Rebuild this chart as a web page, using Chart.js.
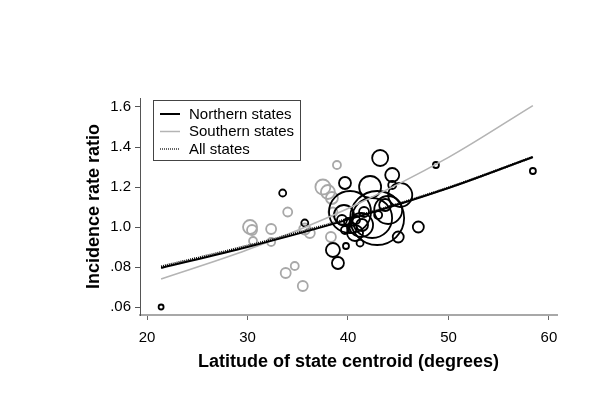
<!DOCTYPE html>
<html><head><meta charset="utf-8">
<script src="https://cdn.jsdelivr.net/npm/chart.js@4/dist/chart.umd.min.js"></script>
<style>html,body{margin:0;padding:0;background:#fff}#wrap{width:608px;height:412px}</style>
</head><body><div id="wrap"><canvas id="c" width="608" height="412"></canvas></div>
<script>
// ---- data ----
const xTicks = [20, 30, 40, 50, 60];
const yTicks = [0.6, 0.8, 1.0, 1.2, 1.4, 1.6];
const yTickLabels = ['.06', '.08', '1.0', '1.2', '1.4', '1.6'];
const seriesNames = ['Northern states', 'Southern states', 'All states'];
const xTitle = 'Latitude of state centroid (degrees)';
const yTitle = 'Incidence rate ratio';

// Northern states (black circles): latitude, IRR, bubble size
const northLat  = [21.4, 33.5, 35.7, 48.75, 58.4, 43.2, 39.7, 42.2, 44.4, 44.4, 45.2, 42.9, 40.2, 42.4, 47.0, 45.0, 38.5, 39.0, 39.8, 41.2, 39.4, 40.0, 40.4, 40.8, 39.7, 41.4, 41.6, 43.7, 43.0, 40.7, 44.0, 41.3, 39.6];
const northIRR  = [0.60, 1.17, 1.02, 1.31, 1.28, 1.345, 1.22, 1.20, 1.26, 1.21, 1.16, 1.045, 1.075, 1.045, 1.00, 0.95, 0.885, 0.82, 0.905, 0.92, 1.035, 1.025, 0.995, 1.035, 0.985, 1.01, 1.075, 1.11, 1.06, 0.97, 1.085, 1.01, 1.06];
const northSize = [2.5, 3.5, 3.5, 3, 3, 8, 6, 11, 7, 4, 12, 27, 21, 20, 5.5, 5.5, 7, 6, 3, 3.5, 5, 4, 5, 4, 4, 6, 5, 6, 4, 8, 14, 12, 10];

// Southern states (grey circles)
const southLat  = [30.25, 30.45, 30.55, 32.35, 32.35, 34.0, 33.8, 34.7, 35.5, 35.7, 36.2, 38.9, 37.5, 38.0, 38.4, 38.5, 38.3];
const southIRR  = [1.00, 0.985, 0.93, 0.99, 0.925, 1.075, 0.77, 0.805, 0.705, 0.99, 0.97, 1.31, 1.20, 1.175, 1.145, 1.075, 0.95];
const southSize = [7, 5, 4, 5, 4, 4.5, 5, 4, 5, 5.5, 5, 4, 7.5, 7, 6, 4.5, 5];

// Fitted lines read at a few latitudes
const fitLat   = [21.4, 30, 40, 50, 58.4];
const northFit = [0.795, 0.90, 1.037, 1.195, 1.35];
const southFit = [0.74, 0.886, 1.093, 1.348, 1.607];
const allFit   = [0.802, 0.906, 1.041, 1.197, 1.35];

// ---- build ----
const FONT = '"Liberation Sans", Arial, Helvetica, sans-serif';
const BLACK = '#000000', GREY = '#a8a8a8';
const pts = (xs, ys, rs) => xs.map((x, i) => rs ? {x, y: ys[i], r: rs[i]} : {x, y: ys[i]});

const legendPlugin = {
  id: 'boxLegend',
  afterDraw(chart) {
    const ctx = chart.ctx;
    const x0 = 153, y0 = 100, w = 147, h = 60;
    ctx.save();
    ctx.fillStyle = '#fff';
    ctx.fillRect(x0, y0, w, h);
    ctx.strokeStyle = '#444';
    ctx.lineWidth = 1;
    ctx.strokeRect(x0 + 0.5, y0 + 0.5, w, h);
    const items = [
      {label: seriesNames[0], color: BLACK, width: 2, dash: []},
      {label: seriesNames[1], color: '#b4b4b4', width: 1.5, dash: []},
      {label: seriesNames[2], color: BLACK, width: 1.2, dash: [1, 1]}
    ];
    ctx.font = '15px ' + FONT;
    ctx.textBaseline = 'middle';
    items.forEach((it, i) => {
      const y = 114 + i * 17.5;
      ctx.beginPath();
      ctx.setLineDash(it.dash);
      ctx.strokeStyle = it.color;
      ctx.lineWidth = it.width;
      ctx.moveTo(160, y);
      ctx.lineTo(180, y);
      ctx.stroke();
      ctx.setLineDash([]);
      ctx.fillStyle = '#000';
      ctx.fillText(it.label, 189, y + 0.5);
    });
    ctx.restore();
  }
};

new Chart(document.getElementById('c'), {
  type: 'bubble',
  data: {
    datasets: [
      {type: 'line', label: seriesNames[2], data: pts(fitLat, allFit), borderColor: BLACK, borderWidth: 2.4, borderDash: [1, 1], pointRadius: 0, fill: false, cubicInterpolationMode: 'monotone', order: 0},
      {type: 'line', label: seriesNames[0], data: pts(fitLat, northFit), borderColor: BLACK, borderWidth: 2, pointRadius: 0, fill: false, cubicInterpolationMode: 'monotone', order: 1},
      {type: 'line', label: seriesNames[1], data: pts(fitLat, southFit), borderColor: '#b4b4b4', borderWidth: 1.6, pointRadius: 0, fill: false, cubicInterpolationMode: 'monotone', order: 2},
      {label: 'north pts', data: pts(northLat, northIRR, northSize), borderColor: BLACK, backgroundColor: 'rgba(0,0,0,0)', borderWidth: 1.8, order: 3},
      {label: 'south pts', data: pts(southLat, southIRR, southSize), borderColor: GREY, backgroundColor: 'rgba(0,0,0,0)', borderWidth: 1.8, order: 4}
    ]
  },
  options: {
    responsive: false,
    animation: false,
    devicePixelRatio: 1,
    layout: {padding: {left: 0, top: 98, right: 51, bottom: 0}},
    plugins: {legend: {display: false}, tooltip: {enabled: false}},
    scales: {
      x: {
        type: 'linear', min: 19.3, max: 60.8,
        afterFit: s => { s.height = 97; },
        afterBuildTicks: s => { s.ticks = xTicks.map(v => ({value: v})); },
        border: {display: true, color: '#a8a8a8', width: 2},
        grid: {display: true, drawOnChartArea: false, drawTicks: true, tickLength: 5, color: '#666', lineWidth: 1},
        ticks: {color: '#000', font: {family: FONT, size: 15}, padding: 9, maxRotation: 0},
        title: {display: true, text: xTitle, color: '#000', font: {family: FONT, size: 18, weight: 'bold'}, padding: {top: 0, bottom: 39}}
      },
      y: {
        type: 'linear', min: 0.56, max: 1.645,
        afterFit: s => { s.width = 140; },
        afterBuildTicks: s => { s.ticks = yTicks.map(v => ({value: v})); },
        border: {display: true, color: '#555', width: 1},
        grid: {display: true, drawOnChartArea: false, drawTicks: true, tickLength: 5, color: '#555', lineWidth: 1},
        ticks: {color: '#000', font: {family: FONT, size: 15}, padding: 4,
          callback: v => { const i = yTicks.findIndex(t => Math.abs(t - v) < 1e-6); return i >= 0 ? yTickLabels[i] : ''; }},
        title: {display: true, text: yTitle, color: '#000', font: {family: FONT, size: 18, weight: 'bold'}, padding: {top: 83, bottom: 0}}
      }
    }
  },
  plugins: [legendPlugin]
});
</script></body></html>
